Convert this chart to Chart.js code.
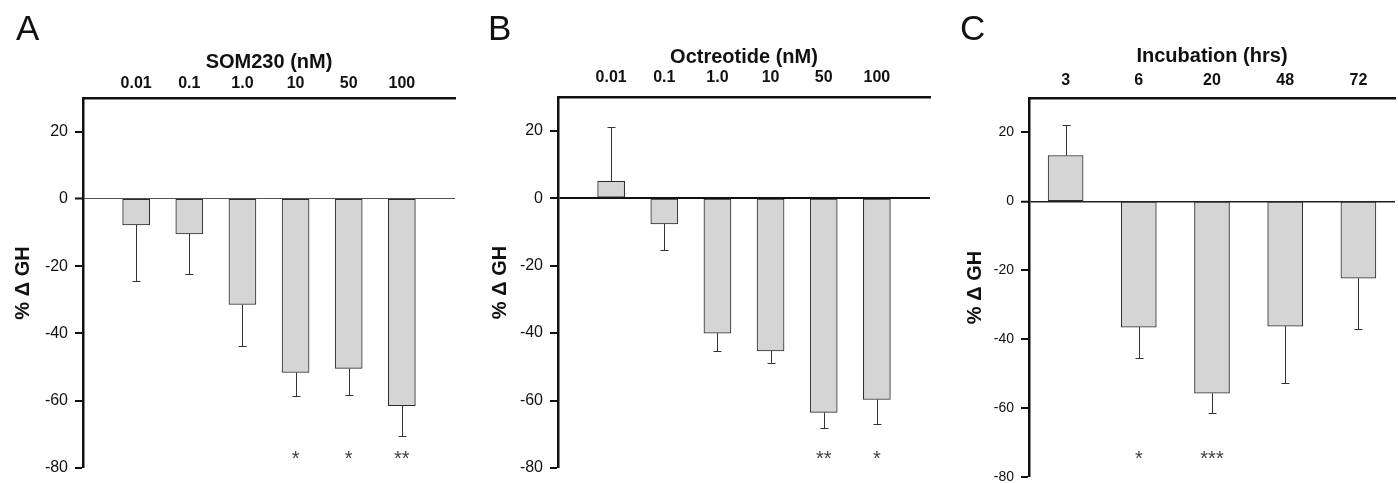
<!DOCTYPE html>
<html>
<head>
<meta charset="utf-8">
<script src="https://cdn.jsdelivr.net/npm/chart.js@4.4.1/dist/chart.umd.min.js"></script>
<style>
  html, body { margin: 0; padding: 0; background: #fff; overflow: hidden; }
  canvas { position: absolute; top: 0; }
</style>
</head>
<body>
<canvas id="chartA" width="466" height="520" style="left:0"></canvas>
<canvas id="chartB" width="466" height="520" style="left:466px"></canvas>
<canvas id="chartC" width="466" height="520" style="left:932px"></canvas>
<script>
// panel A: SOM230 dose response
const somLabels = ["0.01", "0.1", "1.0", "10", "50", "100"];
const somMeans = [-7.7, -10.4, -31.4, -51.6, -50.4, -61.5];
const somErrors = [16.7, 11.9, 12.3, 7.0, 8.0, 9.0];
const somStars = ["", "", "", "*", "*", "**"];

// panel B: octreotide dose response
const octLabels = ["0.01", "0.1", "1.0", "10", "50", "100"];
const octMeans = [5.0, -7.6, -40.0, -45.3, -63.5, -59.7];
const octErrors = [16.0, 7.9, 5.2, 3.7, 4.5, 7.3];
const octStars = ["", "", "", "", "**", "*"];

// panel C: incubation time
const incLabels = ["3", "6", "20", "48", "72"];
const incMeans = [13.3, -36.5, -55.7, -36.2, -22.3];
const incErrors = [9.0, 9.0, 5.8, 16.6, 14.6];
const incStars = ["", "*", "***", "", ""];

const FONT = "'Liberation Sans', Arial, Helvetica, sans-serif";

// error bars, significance stars and the panel letter
const panelExtras = {
  id: "panelExtras",
  afterDatasetsDraw(chart, args, opts) {
    const ctx = chart.ctx;
    const ds = chart.data.datasets[0];
    const meta = chart.getDatasetMeta(0);
    const yScale = chart.scales.y;
    ctx.save();
    ctx.strokeStyle = "#333";
    ctx.lineWidth = 1;
    meta.data.forEach((bar, i) => {
      const v = ds.data[i];
      const e = ds.errors[i];
      if (v === null || e === null) return;
      const tip = v >= 0 ? v + e : v - e;
      const x = Math.round(bar.x) + 0.5;
      const y0 = yScale.getPixelForValue(v);
      const y1 = Math.round(yScale.getPixelForValue(tip)) + 0.5;
      ctx.beginPath();
      ctx.moveTo(x, y0);
      ctx.lineTo(x, y1);
      ctx.moveTo(x - opts.cap, y1);
      ctx.lineTo(x + opts.cap, y1);
      ctx.stroke();
    });
    ctx.fillStyle = "#444";
    ctx.font = "20px " + FONT;
    ctx.textAlign = "center";
    ctx.textBaseline = "middle";
    meta.data.forEach((bar, i) => {
      const s = ds.stars[i];
      if (s) ctx.fillText(s, bar.x, yScale.getPixelForValue(opts.starLevel));
    });
    ctx.fillStyle = "#111";
    ctx.font = "35px " + FONT;
    ctx.textAlign = "left";
    ctx.textBaseline = "alphabetic";
    ctx.fillText(opts.letter, opts.letterX, opts.letterY);
    ctx.restore();
  }
};

function makePanel(id, p) {
  const ctx = document.getElementById(id).getContext("2d");
  // dose panels leave an empty slot at each end of the axis
  const labels = p.padEnds ? ["", ...p.labels, ""] : p.labels;
  const values = p.padEnds ? [null, ...p.means, null] : p.means;
  const errors = p.padEnds ? [null, ...p.errors, null] : p.errors;
  const stars = p.padEnds ? ["", ...p.stars, ""] : p.stars;

  return new Chart(ctx, {
    type: "bar",
    data: {
      labels: labels,
      datasets: [
        {
          data: values,
          errors: errors,
          stars: stars,
          backgroundColor: "#d5d5d5",
          borderColor: "#2a2a2a",
          borderWidth: 1,
          borderSkipped: false,
          barThickness: p.barWidth,
        },
      ],
    },
    options: {
      responsive: false,
      animation: false,
      devicePixelRatio: 1,
      layout: {
        padding: { left: 0, top: 0, right: p.padRight, bottom: p.padBottom },
      },
      plugins: {
        legend: { display: false },
        tooltip: { enabled: false },
        panelExtras: {
          cap: 4,
          starLevel: p.starLevel,
          letter: p.letter,
          letterX: p.letterX,
          letterY: 40,
        },
      },
      scales: {
        x: {
          position: "top",
          offset: !p.padEnds,
          grid: { display: false },
          border: { display: true, color: "#111", width: 2.5 },
          ticks: {
            autoSkip: false,
            maxRotation: 0,
            padding: p.labelPad,
            color: "#111",
            font: { family: FONT, size: 16, weight: "bold" },
          },
          title: {
            display: true,
            text: p.title,
            color: "#111",
            font: { family: FONT, size: 20, weight: "bold" },
            padding: { top: p.titleTop, bottom: 0 },
          },
          afterFit: (s) => {
            s.height = p.top;
          },
        },
        y: {
          min: -80,
          max: 30,
          ticks: {
            stepSize: 20,
            padding: 7,
            color: "#111",
            font: { family: FONT, size: p.tickSize },
          },
          afterBuildTicks: (s) => {
            s.ticks = s.ticks.filter((t) => t.value <= 20);
          },
          grid: {
            drawOnChartArea: true,
            color: (c) => (c.tick && c.tick.value === 0 ? p.zeroColor : "rgba(0,0,0,0)"),
            lineWidth: (c) => (c.tick && c.tick.value === 0 ? p.zeroWidth : 0),
            tickColor: "#111",
            tickWidth: 2,
            tickLength: 8,
          },
          border: { display: true, color: "#111", width: 2.5 },
          title: {
            display: true,
            text: "% \u0394 GH",
            color: "#111",
            font: { family: FONT, size: 20, weight: "bold" },
            padding: { top: p.yTitlePad, bottom: 0 },
          },
          afterFit: (s) => {
            s.width = p.left;
          },
        },
      },
    },
    plugins: [panelExtras],
  });
}

makePanel("chartA", {
  labels: somLabels, means: somMeans, errors: somErrors, stars: somStars,
  padEnds: true, title: "SOM230 (nM)", letter: "A", letterX: 16,
  left: 83, top: 98, padRight: 11, padBottom: 52,
  labelPad: -3, titleTop: 50, yTitlePad: 11, tickSize: 16,
  barWidth: 27, starLevel: -77.5, zeroColor: "#555", zeroWidth: 1,
});

makePanel("chartB", {
  labels: octLabels, means: octMeans, errors: octErrors, stars: octStars,
  padEnds: true, title: "Octreotide (nM)", letter: "B", letterX: 22,
  left: 92, top: 97, padRight: 0, padBottom: 52,
  labelPad: 2, titleTop: 45, yTitlePad: 22, tickSize: 16,
  barWidth: 27, starLevel: -77.5, zeroColor: "#111", zeroWidth: 2,
});

makePanel("chartC", {
  labels: incLabels, means: incMeans, errors: incErrors, stars: incStars,
  padEnds: false, title: "Incubation (hrs)", letter: "C", letterX: 28,
  left: 97, top: 98, padRight: 3, padBottom: 43,
  labelPad: 0, titleTop: 44, yTitlePad: 31, tickSize: 14,
  barWidth: 35, starLevel: -75, zeroColor: "#222", zeroWidth: 1.5,
});
</script>
</body>
</html>
